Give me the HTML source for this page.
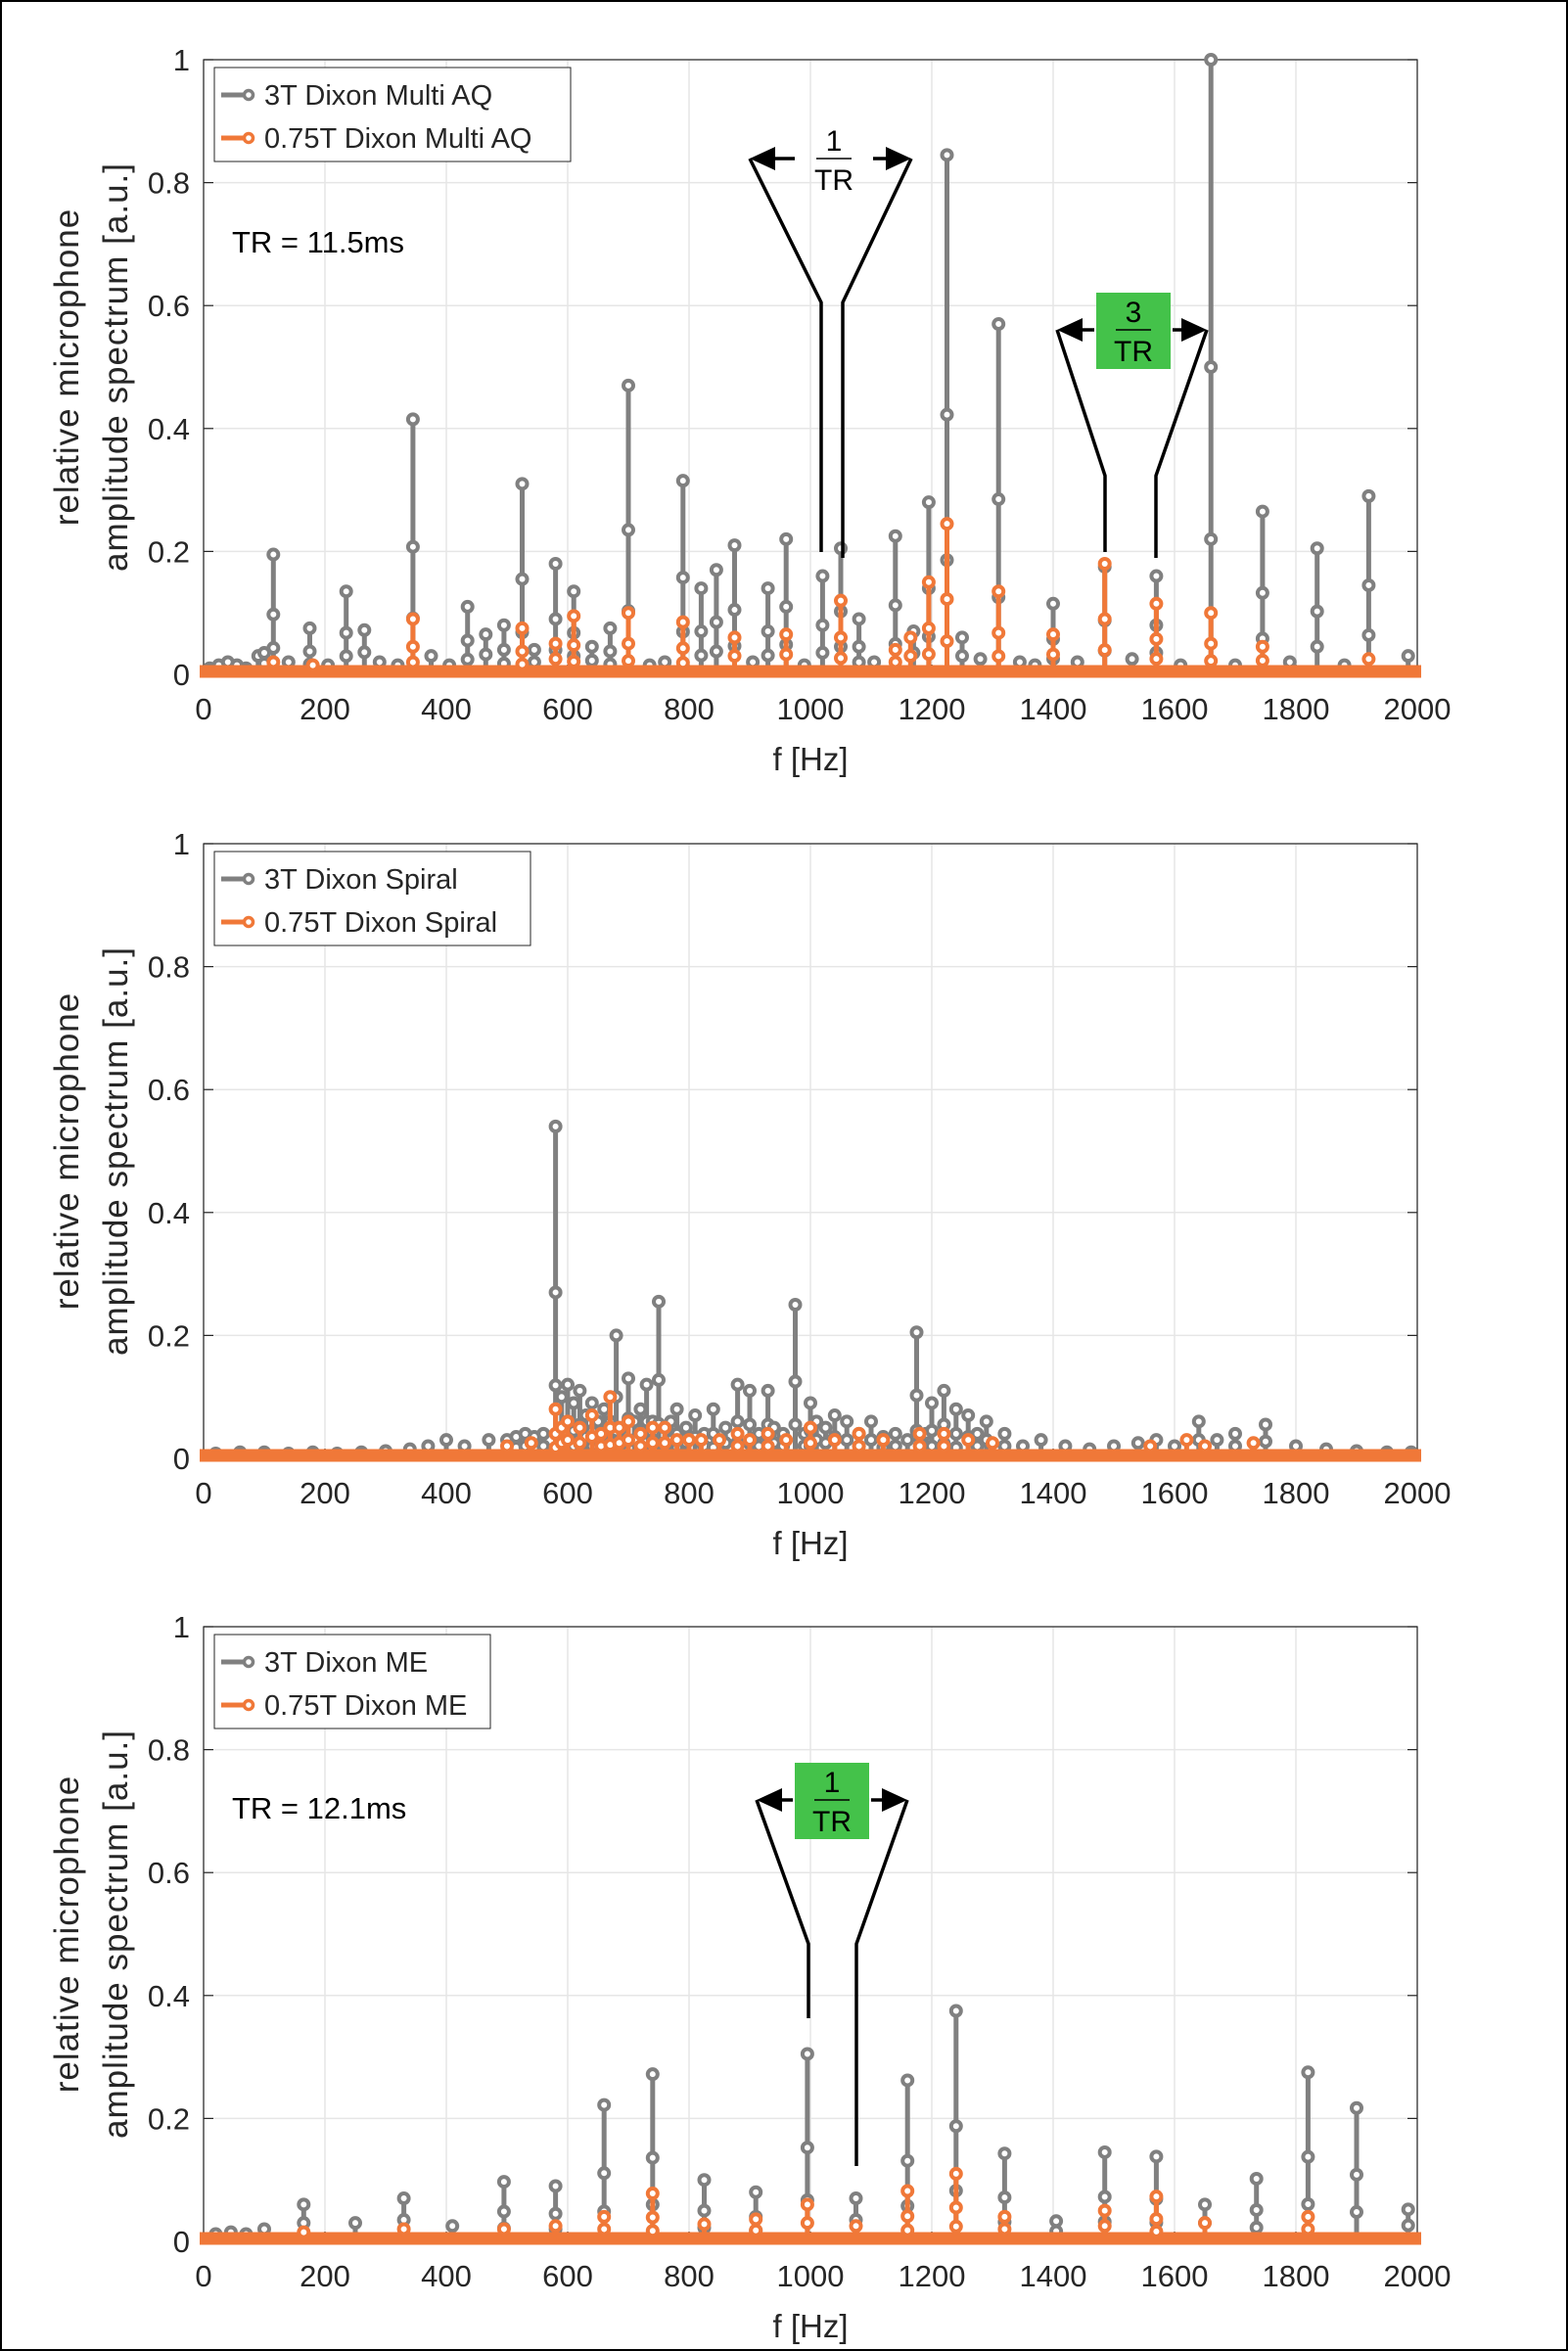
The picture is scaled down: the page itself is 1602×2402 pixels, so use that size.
<!DOCTYPE html>
<html><head><meta charset="utf-8"><style>
html,body{margin:0;padding:0;background:#fff}
svg{display:block;font-family:"Liberation Sans","DejaVu Sans",sans-serif}
</style></head><body>
<svg id="fig" width="1602" height="2402" viewBox="0 0 1602 2402" xmlns="http://www.w3.org/2000/svg">
<rect x="1" y="1" width="1600" height="2400" fill="#fff" stroke="#000" stroke-width="2"/>
</svg>
<script>
// ---- data ----
const xTicks=[0,200,400,600,800,1000,1200,1400,1600,1800,2000];
const yTicks=[0,0.2,0.4,0.6,0.8,1];
const yTickLabels=["0","0.2","0.4","0.6","0.8","1"];
const p1GrayF=[10,25,40,55,70,90,100,115,140,175,205,235,265,290,320,345,375,405,435,465,495,525,545,580,610,640,670,700,735,760,790,820,845,875,905,930,960,990,1020,1050,1080,1105,1140,1170,1195,1225,1250,1280,1310,1345,1370,1400,1440,1485,1530,1570,1610,1660,1700,1745,1790,1835,1880,1920,1985];
const p1GrayA=[0.01,0.015,0.02,0.015,0.01,0.03,0.035,0.195,0.02,0.075,0.015,0.135,0.072,0.02,0.015,0.415,0.03,0.015,0.11,0.065,0.08,0.31,0.04,0.18,0.135,0.045,0.075,0.47,0.015,0.02,0.315,0.14,0.17,0.21,0.02,0.14,0.22,0.015,0.16,0.205,0.09,0.02,0.225,0.07,0.28,0.845,0.06,0.025,0.57,0.02,0.015,0.115,0.02,0.175,0.025,0.16,0.015,1.0,0.015,0.265,0.02,0.205,0.015,0.29,0.03];
const p1OrF=[115,180,345,525,580,610,700,790,875,960,1050,1140,1165,1195,1225,1310,1400,1485,1570,1660,1745,1920];
const p1OrA=[0.02,0.015,0.09,0.075,0.05,0.095,0.1,0.085,0.06,0.065,0.12,0.04,0.06,0.15,0.245,0.135,0.065,0.18,0.115,0.1,0.045,0.025];
const p2GrayF=[20,60,100,140,180,220,260,300,340,370,400,430,470,500,515,530,545,560,580,590,600,610,620,630,640,650,660,670,680,690,700,710,720,730,740,750,760,770,780,795,810,825,840,860,880,900,915,930,940,955,975,990,1000,1010,1025,1040,1060,1080,1100,1120,1140,1160,1175,1190,1200,1220,1240,1260,1275,1290,1320,1350,1380,1420,1460,1500,1540,1570,1600,1640,1670,1700,1750,1800,1850,1900,1950,1990];
const p2GrayA=[0.008,0.01,0.01,0.008,0.01,0.008,0.01,0.012,0.015,0.02,0.03,0.02,0.03,0.03,0.035,0.04,0.035,0.04,0.54,0.1,0.12,0.09,0.11,0.07,0.09,0.06,0.08,0.06,0.2,0.05,0.13,0.06,0.08,0.12,0.06,0.255,0.05,0.06,0.08,0.05,0.07,0.04,0.08,0.05,0.12,0.11,0.04,0.11,0.05,0.04,0.25,0.04,0.09,0.06,0.05,0.07,0.06,0.04,0.06,0.035,0.04,0.03,0.205,0.04,0.09,0.11,0.08,0.07,0.04,0.06,0.04,0.02,0.03,0.02,0.015,0.02,0.025,0.03,0.02,0.06,0.03,0.04,0.055,0.02,0.015,0.012,0.01,0.01];
const p2OrF=[500,540,580,590,600,620,640,655,670,685,700,720,740,760,780,800,820,850,880,900,930,960,1000,1040,1080,1120,1180,1220,1260,1300,1560,1620,1650,1730];
const p2OrA=[0.02,0.025,0.08,0.05,0.06,0.05,0.07,0.04,0.1,0.05,0.06,0.04,0.05,0.05,0.03,0.03,0.03,0.03,0.04,0.03,0.04,0.03,0.05,0.03,0.04,0.03,0.04,0.04,0.03,0.025,0.02,0.03,0.02,0.025];
const p3GrayF=[20,45,70,100,165,250,330,410,495,580,660,740,825,910,995,1075,1160,1240,1320,1405,1485,1570,1650,1735,1820,1900,1985];
const p3GrayA=[0.012,0.015,0.012,0.02,0.06,0.03,0.07,0.025,0.097,0.09,0.222,0.272,0.1,0.08,0.305,0.07,0.262,0.375,0.143,0.033,0.145,0.138,0.06,0.102,0.275,0.217,0.052];
const p3OrF=[165,330,495,580,660,740,825,910,995,1075,1160,1240,1320,1485,1570,1650,1820];
const p3OrA=[0.015,0.02,0.02,0.025,0.04,0.078,0.028,0.036,0.06,0.025,0.082,0.11,0.04,0.05,0.073,0.03,0.04];

const NS="http://www.w3.org/2000/svg";
const svg=document.getElementById('fig');
const GRAY="#808080",OR="#f07838";
function mk(tag,attrs,parent){const e=document.createElementNS(NS,tag);for(const k in attrs)e.setAttribute(k,attrs[k]);(parent||svg).appendChild(e);return e;}
const X0=208,X1=1448,PH=628;
function panel(id,top,grayF,grayA,orF,orA,leg1,leg2,legW){
  const g=mk('g',{});
  
  
  const zero=top+PH;
  const xs=f=>X0+(f/2000)*(X1-X0);
  const ys=a=>zero-a*PH;
  xTicks.forEach(t=>{const l=mk('line',{x1:xs(t),x2:xs(t),y1:top,y2:zero,stroke:'#e6e6e6','stroke-width':1.5},g);
    });
  yTicks.forEach(t=>{const l=mk('line',{x1:X0,x2:X1,y1:ys(t),y2:ys(t),stroke:'#e6e6e6','stroke-width':1.5},g);
    });
  const ax=mk('rect',{x:X0,y:top,width:X1-X0,height:PH,fill:'none',stroke:'#262626','stroke-width':1.2},g);
  
  xTicks.forEach(t=>{mk('line',{x1:xs(t),x2:xs(t),y1:zero,y2:zero-10,stroke:'#262626','stroke-width':1.2},g);
    const tx=mk('text',{x:xs(t),y:zero+46,'text-anchor':'middle','font-size':31,fill:'#262626'},g);tx.textContent=t;
    });
  yTicks.forEach((t,i)=>{mk('line',{x1:X0,x2:X0+10,y1:ys(t),y2:ys(t),stroke:'#262626','stroke-width':1.2},g);
    mk('line',{x1:X1,x2:X1-10,y1:ys(t),y2:ys(t),stroke:'#262626','stroke-width':1.2},g);
    const tx=mk('text',{x:X0-14,y:ys(t)+11,'text-anchor':'end','font-size':31,fill:'#262626'},g);tx.textContent=yTickLabels[i];
    });
  const xl=mk('text',{x:(X0+X1)/2,y:zero+98,'text-anchor':'middle','font-size':33,fill:'#262626'},g);xl.textContent='f [Hz]';
  
  const cy=top+PH/2;
  const yl=mk('text',{transform:`translate(80,${cy}) rotate(-90)`,'text-anchor':'middle','font-size':35,fill:'#262626','letter-spacing':'1'},g);yl.textContent='relative microphone';
  
  const yl2=mk('text',{transform:`translate(130,${cy}) rotate(-90)`,'text-anchor':'middle','font-size':35,fill:'#262626','letter-spacing':'1'},g);yl2.textContent='amplitude spectrum [a.u.]';
  
  const bg=mk('line',{x1:X0,x2:X1,y1:zero-5,y2:zero-5,stroke:GRAY,'stroke-width':8},g);
  
  function stems(F,A,col,name){
    F.forEach((f,i)=>{const x=xs(f),y=ys(A[i]);
      const l=mk('line',{x1:x,x2:x,y1:zero,y2:y,stroke:col,'stroke-width':5},g);
      
      [1,0.5,0.22].forEach(fr=>{if(A[i]*fr*PH>10||fr===1){const c=mk('circle',{cx:x,cy:zero-A[i]*fr*PH,r:5,fill:'#fff',stroke:col,'stroke-width':4},g);
        }});
    });
  }
  stems(grayF,grayA,GRAY,'gray-series');
  const ob=mk('line',{x1:X0-4,x2:X1+4,y1:zero-3,y2:zero-3,stroke:OR,'stroke-width':13},g);
  
  stems(orF,orA,OR,'orange-series');
  const lg=mk('g',{},g);
  mk('rect',{x:219,y:top+8,width:legW,height:96,fill:'#fff',stroke:'#262626','stroke-width':1},lg);
  [[leg1,GRAY,top+36],[leg2,OR,top+80]].forEach(([t,c,yy])=>{
    mk('line',{x1:226,x2:258,y1:yy,y2:yy,stroke:c,'stroke-width':5},lg);
    mk('circle',{cx:254,cy:yy,r:4.5,fill:'#fff',stroke:c,'stroke-width':3.5},lg);
    const tx=mk('text',{x:270,y:yy+10,'font-size':29,fill:'#262626'},lg);tx.textContent=t;
    });
  return g;
}
panel('panel-multi-aq',61,p1GrayF,p1GrayA,p1OrF,p1OrA,'3T Dixon Multi AQ','0.75T Dixon Multi AQ',364);
panel('panel-spiral',862,p2GrayF,p2GrayA,p2OrF,p2OrA,'3T Dixon Spiral','0.75T Dixon Spiral',323);
panel('panel-me',1662,p3GrayF,p3GrayA,p3OrF,p3OrA,'3T Dixon ME','0.75T Dixon ME',282);

function annot(name,lx,rx,ay,bx,by,wy,lb,rb,lEnd,rEnd,green,tx){
  const g=mk('g',{});
  if(green){mk('rect',{x:tx-38,y:ay-38,width:76,height:78,fill:'#44c24a'},g);}
  mk('polyline',{points:`${lx},${ay} ${lb},${wy} ${lb},${lEnd}`,fill:'none',stroke:'#000','stroke-width':3.5},g);
  mk('polyline',{points:`${rx},${ay} ${rb},${wy} ${rb},${rEnd}`,fill:'none',stroke:'#000','stroke-width':3.5},g);
  mk('line',{x1:lx+10,x2:tx-40,y1:ay,y2:ay,stroke:'#000','stroke-width':3.5},g);
  mk('line',{x1:rx-10,x2:tx+40,y1:ay,y2:ay,stroke:'#000','stroke-width':3.5},g);
  mk('polygon',{points:`${lx},${ay} ${lx+26},${ay-12} ${lx+26},${ay+12}`,fill:'#000'},g);
  mk('polygon',{points:`${rx},${ay} ${rx-26},${ay-12} ${rx-26},${ay+12}`,fill:'#000'},g);
  mk('line',{x1:tx-18,x2:tx+18,y1:ay,y2:ay,stroke:'#000','stroke-width':1.5},g);
  const n=mk('text',{x:tx,y:ay-8,'text-anchor':'middle','font-size':30,fill:'#000'},g);n.textContent=bx;
  const d=mk('text',{x:tx,y:ay+32,'text-anchor':'middle','font-size':30,fill:'#000'},g);d.textContent=by;
}
annot('annotation-1-over-tr',766,931,162,'1','TR',309,839,861,564,570,false,852);
annot('annotation-3-over-tr',1080,1233,337,'3','TR',486,1129,1181,564,570,true,1158);
annot('annotation-1-over-tr-me',773,927,1839,'1','TR',1986,826,875,2062,2213,true,850);
[[237,248,'TR = 11.5ms'],[237,1848,'TR = 12.1ms']].forEach(([x,y,t])=>{
  const e=mk('text',{x:x,y:y+10,'font-size':31,fill:'#000'});e.textContent=t;
  });
</script>
</body></html>
